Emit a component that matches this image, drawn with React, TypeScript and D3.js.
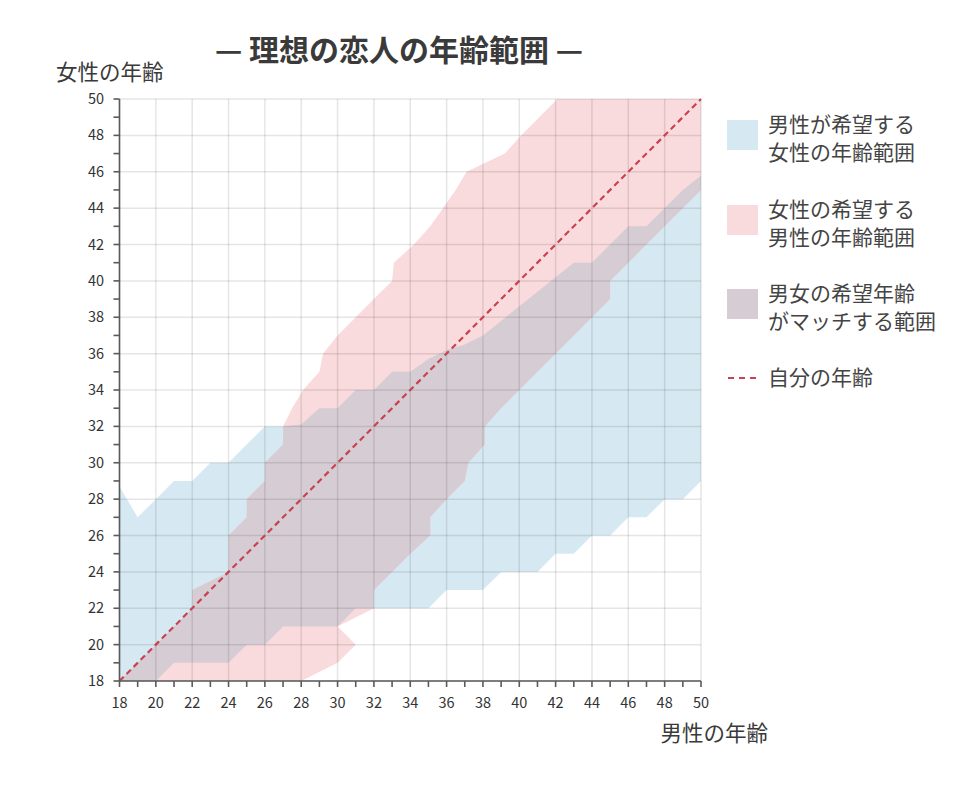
import React from "react";
import * as d3 from "d3";

// ---- data ----
// male ages (x axis) and the female age range men desire (blue)
const maleAges = [18,19,20,21,22,23,24,25,26,27,28,29,30,31,32,33,34,35,36,37,38,39,40,41,42,43,44,45,46,47,48,49,50];
const menWantLow = [18,18,18,19,19,19,19,20,20,21,21,21,21,22,22,22,22,22,23,23,23,24,24,24,25,25,26,26,27,27,28,28,29];
const menWantHigh = [28.7,27,28,29,29,30,30,31,32,32,32.1,33,33,34,34,35,35,35.7,36.2,36.5,37,37.8,38.6,39.4,40.2,41,41,42,43,43,44,45,45.8];

// female ages (y axis) and the male age range women desire (pink)
const femaleAges = [18,19,20,21,22,23,24,25,26,27,28,29,30,31,32,33,34,35,36,37,38,39,40,41,42,43,44,45,46,47,48,49,50];
const womenWantLow = [18,19,20,21,22,22,24,24,24,25,25,26,26,27,27,27.5,28.1,29,29.2,30,31,32,33,33.1,34.2,35.1,35.8,36.5,37.1,39.2,40.1,41.1,42.1];
const womenWantHigh = [28,30,31,30,32,32,33,34,35.1,35.1,36,37,37.2,38.1,38.1,39,40,41,42,43,44,45,45,46,47,48,49,50,50,50,50,50,50];

const tickValues = [18,20,22,24,26,28,30,32,34,36,38,40,42,44,46,48,50];
const minorTicks = [18,19,20,21,22,23,24,25,26,27,28,29,30,31,32,33,34,35,36,37,38,39,40,41,42,43,44,45,46,47,48,49,50];

const title = "— 理想の恋人の年齢範囲 —";
const yLabel = "女性の年齢";
const xLabel = "男性の年齢";
const legendItems = [
  { lines: ["男性が希望する", "女性の年齢範囲"], color: "#d6e9f2" },
  { lines: ["女性の希望する", "男性の年齢範囲"], color: "#f9dadd" },
  { lines: ["男女の希望年齢", "がマッチする範囲"], color: "#d6ccd4" },
];
const selfLabel = "自分の年齢";

const BLUE = "#d6e9f2";
const PINK = "#f9dadd";
const MATCH = "#d6ccd4";
const DASH = "#c8434f";
const FONT = "'Noto Sans CJK JP', 'Noto Sans', sans-serif";

export default function App() {
  const W = 960, H = 791;
  const x = d3.scaleLinear().domain([18, 50]).range([119.5, 701]);
  const y = d3.scaleLinear().domain([18, 50]).range([681, 99]);

  const blueData = maleAges.map((a, i) => ({ age: a, lo: menWantLow[i], hi: menWantHigh[i] }));
  const pinkData = femaleAges.map((a, i) => ({ age: a, lo: womenWantLow[i], hi: womenWantHigh[i] }));

  const blueArea = d3.area<any>().x(d => x(d.age)).y0(d => y(d.lo)).y1(d => y(d.hi));
  const pinkArea = d3.area<any>().y(d => y(d.age)).x0(d => x(d.lo)).x1(d => x(d.hi));
  const bluePath = blueArea(blueData) || "";
  const pinkPath = pinkArea(pinkData) || "";

  const [x0, x1] = x.range();
  const [y0, y1] = y.range();

  return (
    <svg width={W} height={H} style={{ position: "absolute", left: 0, top: 0, background: "#fff" }} fontFamily={FONT}>
      <defs>
        <clipPath id="plotClip">
          <rect x={x0} y={y1} width={x1 - x0} height={y0 - y1} />
        </clipPath>
        <clipPath id="pinkClip">
          <path d={pinkPath} />
        </clipPath>
      </defs>

      <text x={399} y={61} textAnchor="middle" fontSize={30} fontWeight={600} fill="#3a3a3a">{title}</text>
      <text x={56} y={80} fontSize={21.5} fill="#3a3a3a">{yLabel}</text>
      <text x={768} y={741} textAnchor="end" fontSize={21.5} fill="#3a3a3a">{xLabel}</text>

      <g clipPath="url(#plotClip)">
        <path d={bluePath} fill={BLUE} />
        <path d={pinkPath} fill={PINK} />
        <g clipPath="url(#pinkClip)">
          <path d={bluePath} fill={MATCH} />
        </g>
      </g>

      {/* grid */}
      <g stroke="rgba(0,0,0,0.1)" strokeWidth={1.5}>
        {tickValues.map(t => (
          <line key={"gx" + t} x1={x(t)} x2={x(t)} y1={y1} y2={y0} />
        ))}
        {tickValues.map(t => (
          <line key={"gy" + t} x1={x0} x2={x1} y1={y(t)} y2={y(t)} />
        ))}
      </g>

      {/* self-age diagonal */}
      <line x1={x(18)} y1={y(18)} x2={x(50)} y2={y(50)} stroke={DASH} strokeWidth={2.2} strokeDasharray="6,4" />

      {/* axes */}
      <g stroke="#5a5a5a" strokeWidth={1.6}>
        <line x1={x0} x2={x0} y1={y1} y2={y0} />
        <line x1={x0} x2={x1} y1={y0} y2={y0} />
        {minorTicks.map(t => (
          <line key={"tx" + t} x1={x(t)} x2={x(t)} y1={y0} y2={y0 + 6} />
        ))}
        {minorTicks.map(t => (
          <line key={"ty" + t} x1={x0 - 6} x2={x0} y1={y(t)} y2={y(t)} />
        ))}
      </g>
      <g fontSize={14.5} fill="#333">
        {tickValues.map(t => (
          <text key={"lx" + t} x={x(t)} y={708} textAnchor="middle">{t}</text>
        ))}
        {tickValues.map(t => (
          <text key={"ly" + t} x={104} y={y(t)} dy="0.35em" textAnchor="end">{t}</text>
        ))}
      </g>

      {/* legend */}
      <g fontSize={21} fill="#444">
        {legendItems.map((item, i) => {
          const top = [120, 205, 289][i];
          return (
            <g key={i}>
              <rect x={727} y={top} width={31} height={30} fill={item.color} />
              {item.lines.map((ln, j) => (
                <text key={j} x={768} y={top + 5 + j * 28} dy="0.35em">{ln}</text>
              ))}
            </g>
          );
        })}
        <line x1={728} x2={758} y1={378} y2={378} stroke={DASH} strokeWidth={2} strokeDasharray="6,5" />
        <text x={768} y={378} dy="0.35em">{selfLabel}</text>
      </g>
    </svg>
  );
}
